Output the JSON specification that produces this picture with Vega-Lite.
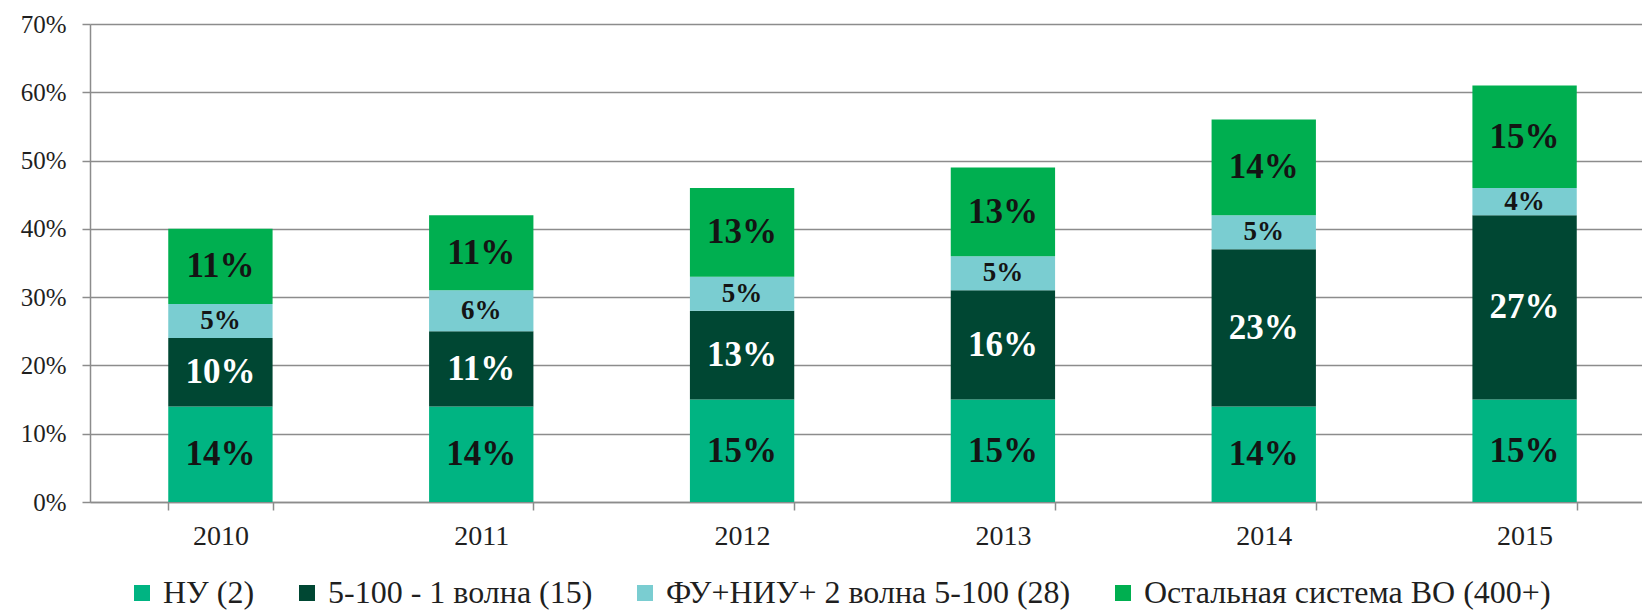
{
  "$schema": "https://vega.github.io/schema/vega-lite/v6.json",
  "width": 1552,
  "height": 478,
  "autosize": {"type": "none"},
  "padding": {"left": 90, "top": 24, "right": 0, "bottom": 109},
  "background": "white",
  "config": {
    "view": {"stroke": null},
    "font": "Liberation Serif",
    "axis": {"labelFont": "Liberation Serif", "labelColor": "#1f1f1f", "domainColor": "#8c8c8c", "tickColor": "#8c8c8c", "gridColor": "#8c8c8c", "domainWidth": 1.5, "tickWidth": 1.5, "gridWidth": 1.5}
  },
  "data": {
    "values": [
      {"year": "2010", "cat": "НУ (2)", "k": 1, "v": 0.14},
      {"year": "2010", "cat": "5-100 - 1 волна (15)", "k": 2, "v": 0.10},
      {"year": "2010", "cat": "ФУ+НИУ+ 2 волна 5-100 (28)", "k": 3, "v": 0.05},
      {"year": "2010", "cat": "Остальная система ВО (400+)", "k": 4, "v": 0.11},
      {"year": "2011", "cat": "НУ (2)", "k": 1, "v": 0.14},
      {"year": "2011", "cat": "5-100 - 1 волна (15)", "k": 2, "v": 0.11},
      {"year": "2011", "cat": "ФУ+НИУ+ 2 волна 5-100 (28)", "k": 3, "v": 0.06},
      {"year": "2011", "cat": "Остальная система ВО (400+)", "k": 4, "v": 0.11},
      {"year": "2012", "cat": "НУ (2)", "k": 1, "v": 0.15},
      {"year": "2012", "cat": "5-100 - 1 волна (15)", "k": 2, "v": 0.13},
      {"year": "2012", "cat": "ФУ+НИУ+ 2 волна 5-100 (28)", "k": 3, "v": 0.05},
      {"year": "2012", "cat": "Остальная система ВО (400+)", "k": 4, "v": 0.13},
      {"year": "2013", "cat": "НУ (2)", "k": 1, "v": 0.15},
      {"year": "2013", "cat": "5-100 - 1 волна (15)", "k": 2, "v": 0.16},
      {"year": "2013", "cat": "ФУ+НИУ+ 2 волна 5-100 (28)", "k": 3, "v": 0.05},
      {"year": "2013", "cat": "Остальная система ВО (400+)", "k": 4, "v": 0.13},
      {"year": "2014", "cat": "НУ (2)", "k": 1, "v": 0.14},
      {"year": "2014", "cat": "5-100 - 1 волна (15)", "k": 2, "v": 0.23},
      {"year": "2014", "cat": "ФУ+НИУ+ 2 волна 5-100 (28)", "k": 3, "v": 0.05},
      {"year": "2014", "cat": "Остальная система ВО (400+)", "k": 4, "v": 0.14},
      {"year": "2015", "cat": "НУ (2)", "k": 1, "v": 0.15},
      {"year": "2015", "cat": "5-100 - 1 волна (15)", "k": 2, "v": 0.27},
      {"year": "2015", "cat": "ФУ+НИУ+ 2 волна 5-100 (28)", "k": 3, "v": 0.04},
      {"year": "2015", "cat": "Остальная система ВО (400+)", "k": 4, "v": 0.15}
    ]
  },
  "encoding": {
    "x": {
      "field": "year", "type": "ordinal",
      "scale": {"range": [0, 1565], "paddingInner": 0.6, "paddingOuter": 0.3},
      "axis": {"title": null, "labelAngle": 0, "labelFontSize": 28, "tickBand": "extent", "tickSize": 8, "labelPadding": 12, "domain": true}
    }
  },
  "layer": [
    {
      "mark": {"type": "bar"},
      "encoding": {
        "y": {
          "field": "v", "type": "quantitative", "stack": "zero",
          "scale": {"domain": [0, 0.7]},
          "axis": {"title": null, "format": ".0%", "values": [0, 0.1, 0.2, 0.3, 0.4, 0.5, 0.6, 0.7], "labelFontSize": 25, "tickSize": 8, "labelPadding": 16, "grid": true, "domain": true}
        },
        "color": {
          "field": "cat", "type": "nominal",
          "scale": {
            "domain": ["НУ (2)", "5-100 - 1 волна (15)", "ФУ+НИУ+ 2 волна 5-100 (28)", "Остальная система ВО (400+)"],
            "range": ["#00b482", "#004733", "#7acdd1", "#00af50"]
          },
          "legend": {
            "title": null, "orient": "none", "direction": "horizontal",
            "legendX": 36, "legendY": 553, "padding": 0,
            "symbolType": "square", "symbolSize": 256, "symbolStrokeWidth": 0,
            "labelFontSize": 32, "labelFont": "Liberation Serif", "labelColor": "#1f1f1f",
            "labelLimit": 800, "columnPadding": 36, "labelOffset": 5
          }
        },
        "order": {"field": "k", "type": "quantitative", "sort": "ascending"}
      }
    },
    {
      "mark": {"type": "text", "fontWeight": "bold", "font": "Liberation Serif", "baseline": "middle", "align": "center"},
      "encoding": {
        "y": {"field": "v", "type": "quantitative", "stack": "zero", "bandPosition": 0.5},
        "detail": {"field": "cat", "type": "nominal"},
        "order": {"field": "k", "type": "quantitative", "sort": "ascending"},
        "text": {"field": "v", "type": "quantitative", "format": ".0%"},
        "color": {"condition": {"test": "datum.k === 2", "value": "#ffffff"}, "value": "#141414"},
        "size": {"condition": {"test": "datum.k === 3", "value": 27}, "value": 35}
      }
    }
  ]
}
